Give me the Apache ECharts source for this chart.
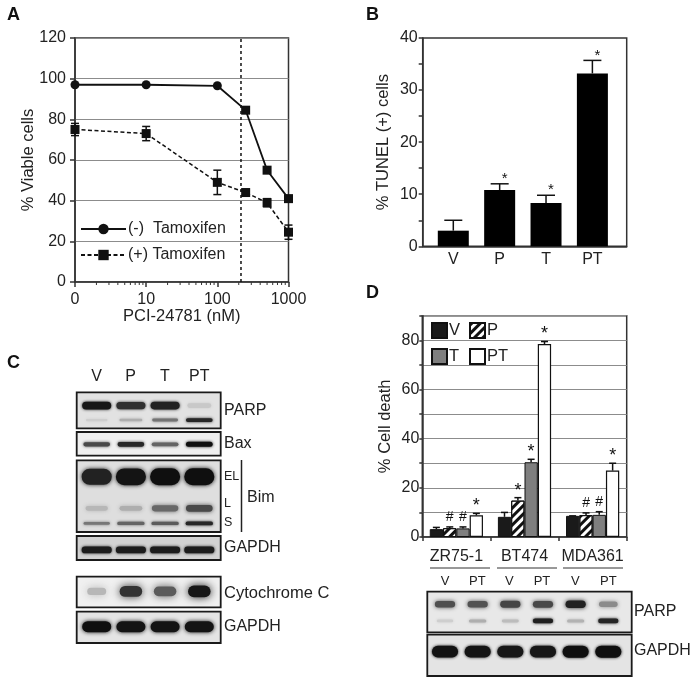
<!DOCTYPE html>
<html>
<head>
<meta charset="utf-8">
<style>
  html, body { margin: 0; padding: 0; background: #fff; }
  #chart { width: 699px; height: 684px; }
</style>
<script src="https://cdn.jsdelivr.net/npm/echarts@6/dist/echarts.min.js"></script>
</head>
<body>
<div id="chart"></div>
<script>
// panel A
const doses = [1, 10, 100, 250, 500, 1000]
const doseMinorTicks = [2, 3, 4, 5, 6, 7, 8, 9, 20, 30, 40, 50, 60, 70, 80, 90, 200, 300, 400, 500, 600, 700, 800, 900]
const cutoffDose = 215
const viableMinus = [97, 97, 96.5, 84.5, 55, 41]
const viableMinusErr = [1, 0.5, 0.5, 1.5, 1, 1.5]
const viablePlus = [75, 73, 49, 44, 39, 24.5]
const viablePlusErr = [3, 3.5, 6, 1.5, 2, 3.5]

// panel B
const tunelGroups = ['V', 'P', 'T', 'PT']
const tunelValues = [3, 10.8, 8.3, 33.2]
const tunelErr = [2, 1.2, 1.5, 2.5]
const tunelMarks = ['', '*', '*', '*']

// panel D
const cellLines = ['ZR75-1', 'BT474', 'MDA361']
const deathV = [3.2, 8.2, 8.6]
const deathP = [3.6, 14.8, 8.9]
const deathT = [3.5, 30.4, 9]
const deathPT = [8.8, 78.5, 27]
const deathVErr = [0.7, 1.8, 0]
const deathPErr = [0.5, 1.2, 0.9]
const deathTErr = [0.6, 1.2, 1.3]
const deathPTErr = [0.8, 1, 3]
const deathPMarks = ['#', '*', '#']
const deathTMarks = ['#', '*', '#']
const deathPTMarks = ['*', '*', '*']

// blot band strengths, one per lane (0 faint, 1 black)
const parpUpper = [0.95, 0.8, 0.88, 0.04]
const parpLower = [0.02, 0.14, 0.42, 0.85]
const baxBand = [0.65, 0.85, 0.5, 1]
const bimEL = [0.88, 0.97, 1, 1]
const bimL = [0.1, 0.14, 0.48, 0.65]
const bimS = [0.4, 0.5, 0.55, 0.85]
const gapdhTop = [0.92, 0.92, 0.92, 0.92]
const cytoBand = [0.1, 0.78, 0.55, 0.95]
const gapdhBottom = [1, 0.97, 0.97, 0.97]
const dParpUpper = [0.62, 0.6, 0.68, 0.66, 0.88, 0.3]
const dParpLower = [0.02, 0.14, 0.08, 0.9, 0.12, 0.86]
const dGapdh = [0.98, 0.97, 0.95, 0.95, 1, 1]

const FONT = '"Liberation Sans", Arial, sans-serif'
const INK = '#222'
const GRID_LINE = '#8c8c8c'

const chart = echarts.init(document.getElementById('chart'), null, { renderer: 'canvas' })

function frame(left, top, right, bottom) {
  return {
    show: true, left, top, width: right - left, height: bottom - top,
    borderColor: '#333', borderWidth: 1.5, backgroundColor: 'transparent'
  }
}

function yAxis(gridIndex, max, interval, labelStep, name, nameGap, gridLines, margin, tickLen) {
  return {
    type: 'value', gridIndex, min: 0, max, interval, name, nameGap,
    nameLocation: 'middle', nameMoveOverlap: false,
    nameTextStyle: { fontFamily: FONT, fontSize: 16.5, color: INK },
    axisLine: { show: true, onZero: false, lineStyle: { color: '#333', width: 1.5 } },
    axisTick: { show: true, length: tickLen, lineStyle: { color: '#333', width: 1.5 } },
    axisLabel: {
      fontFamily: FONT, fontSize: 16, color: INK, margin,
      formatter: v => (v % labelStep === 0 ? String(v) : '')
    },
    splitLine: { show: gridLines, lineStyle: { color: GRID_LINE, width: 1.2 } }
  }
}

// error bar with a cap, plus the * or # above it
function errorBars(opts) {
  return (params, api) => {
    const c = api.coord([api.value(0), api.value(1)])
    const hi = api.coord([api.value(0), api.value(1) + api.value(2)])
    const lo = api.coord([api.value(0), api.value(1) - api.value(2)])
    const x = c[0] + (opts.dx || 0)
    const cap = opts.cap
    const stroke = { stroke: '#111', lineWidth: 1.5 }
    const children = [
      { type: 'line', shape: { x1: x, y1: opts.upperOnly ? c[1] : lo[1], x2: x, y2: hi[1] }, style: stroke },
      { type: 'line', shape: { x1: x - cap, y1: hi[1], x2: x + cap, y2: hi[1] }, style: stroke }
    ]
    if (!opts.upperOnly) {
      children.push({ type: 'line', shape: { x1: x - cap, y1: lo[1], x2: x + cap, y2: lo[1] }, style: stroke })
    }
    const mark = api.value(3)
    if (mark && mark !== '-') {
      const star = mark === '*'
      children.push({
        type: 'text',
        style: {
          x: x + (star ? opts.starDx || 0 : 0), y: hi[1] - (star ? opts.starGap : opts.hashGap), text: mark,
          align: 'center', verticalAlign: 'middle',
          font: (star ? opts.starSize : 14) + 'px ' + FONT, fill: '#111'
        }
      })
    }
    return { type: 'group', children }
  }
}

function errorSeries(xAxisIndex, xs, values, errs, marks, opts) {
  return {
    type: 'custom', xAxisIndex, yAxisIndex: xAxisIndex, clip: false, z: 5,
    silent: true,
    renderItem: errorBars(opts),
    encode: { x: 0, y: 1 },
    dimensions: ['x', 'y', 'err', { name: 'mark', type: 'ordinal' }],
    data: xs.map((x, i) => [x, values[i], errs[i], marks ? (marks[i] || '-') : '-'])
  }
}

// panel letters, annotations and labels around the blots
function label(text, x, y, size, extra) {
  return {
    type: 'text', x, y,
    style: Object.assign({
      text, fontFamily: FONT, fontSize: size, fill: INK, verticalAlign: 'middle'
    }, extra || {})
  }
}

const laneC = [96.7, 130.7, 165, 199.3]
const laneD = [445, 477.3, 509.3, 542, 575.3, 608.3]
const graphics = [
  label('A', 7, 15, 18, { fontWeight: 'bold', fill: '#111' }),
  label('B', 366, 15, 18, { fontWeight: 'bold', fill: '#111' }),
  label('C', 7, 363, 18, { fontWeight: 'bold', fill: '#111' }),
  label('D', 366, 293, 18, { fontWeight: 'bold', fill: '#111' }),
  label('PARP', 224, 411, 16),
  label('Bax', 224, 444, 16),
  label('EL', 224, 477, 12.5),
  label('L', 224, 504, 12.5),
  label('S', 224, 523, 12.5),
  label('Bim', 247, 498, 16),
  label('GAPDH', 224, 548, 16),
  label('Cytochrome C', 224, 593, 16.5),
  label('GAPDH', 224, 627, 16),
  label('PARP', 634, 612, 16),
  label('GAPDH', 634, 651, 16),
  { type: 'line', shape: { x1: 241.5, y1: 460, x2: 241.5, y2: 532 }, style: { stroke: '#222', lineWidth: 1.5 } },
  { type: 'line', shape: { x1: 430, y1: 568, x2: 490, y2: 568 }, style: { stroke: '#333', lineWidth: 1 } },
  { type: 'line', shape: { x1: 497, y1: 568, x2: 557, y2: 568 }, style: { stroke: '#333', lineWidth: 1 } },
  { type: 'line', shape: { x1: 563, y1: 568, x2: 623, y2: 568 }, style: { stroke: '#333', lineWidth: 1 } }
]
tunelGroups.forEach((g, i) => graphics.push(label(g, laneC[i], 377, 16, { align: 'center' })))
laneD.forEach((x, i) => graphics.push(label(i % 2 ? 'PT' : 'V', x, 581, 13, { align: 'center' })))

const grids = [
  frame(75, 38, 288.5, 282),
  frame(422.7, 38, 626.7, 246.3),
  frame(422.3, 315.7, 626.7, 537)
]
const xAxes = [
  {
    type: 'log', gridIndex: 0, min: 1, max: 1000, logBase: 10,
    name: 'PCI-24781 (nM)', nameLocation: 'middle', nameGap: 26, nameMoveOverlap: false,
    nameTextStyle: { fontFamily: FONT, fontSize: 16.5, color: INK },
    axisLine: { show: true, lineStyle: { color: '#333', width: 1.5 } },
    axisTick: { show: true, length: 5, lineStyle: { color: '#333', width: 1.5 } },
    axisLabel: {
      fontFamily: FONT, fontSize: 16, color: INK, margin: 10,
      formatter: v => (v === 1 ? '0' : String(v))
    },
    splitLine: { show: false }, minorTick: { show: false }, minorSplitLine: { show: false }
  },
  {
    type: 'value', gridIndex: 1, min: -0.66, max: 3.74,
    axisLine: { show: true, lineStyle: { color: '#333', width: 1.5 } },
    axisTick: { show: false },
    axisLabel: {
      fontFamily: FONT, fontSize: 16, color: INK, margin: 5,
      customValues: [0, 1, 2, 3], formatter: v => tunelGroups[v]
    },
    splitLine: { show: false }
  },
  {
    type: 'category', gridIndex: 2, data: cellLines,
    axisLine: { show: true, lineStyle: { color: '#333', width: 1.5 } },
    axisTick: { show: true, length: 4, lineStyle: { color: '#333', width: 1.5 } },
    axisLabel: { fontFamily: FONT, fontSize: 16, color: INK, margin: 12, interval: 0, hideOverlap: false },
    splitLine: { show: false }
  }
]
const yAxes = [
  yAxis(0, 120, 20, 20, '% Viable cells', 38, true, 9, 5),
  yAxis(1, 40, 5, 10, '% TUNEL (+) cells', 31, false, 5, 4),
  yAxis(2, 90, 10, 20, '% Cell death', 28, true, 3, 3)
]

// each blot is a small grid of its own: lanes on x, height fraction on y
const bandSeries = []
function blot(left, top, right, bottom, lanes, bg, rows) {
  const idx = grids.length
  const spacing = (lanes[lanes.length - 1] - lanes[0]) / (lanes.length - 1)
  grids.push({
    show: true, left, top, width: right - left, height: bottom - top,
    borderColor: '#1a1a1a', borderWidth: 1.8, backgroundColor: bg
  })
  xAxes.push({
    type: 'value', gridIndex: idx, show: false,
    min: (left - lanes[0]) / spacing, max: (right - lanes[0]) / spacing, splitLine: { show: false }
  })
  yAxes.push({ type: 'value', gridIndex: idx, show: false, min: 0, max: 1, inverse: true, splitLine: { show: false } })
  rows.forEach(row => {
    bandSeries.push({
      type: 'custom', xAxisIndex: idx, yAxisIndex: idx, silent: true, z: 3,
      encode: { x: 0, y: 1 },
      data: row.values.map((v, i) => [i, row.y, v]),
      renderItem(params, api) {
        const p = api.coord([api.value(0), api.value(1)])
        const v = api.value(2)
        const g = Math.round(215 - 200 * Math.pow(v, 0.8))
        const w = spacing * (row.w || 0.8) * (0.8 + 0.2 * Math.min(1, v * 2))
        const h = row.h * (0.55 + 0.45 * v)
        const color = `rgb(${g},${g},${g})`
        return {
          type: 'rect',
          shape: { x: p[0] - w / 2, y: p[1] - h / 2, width: w, height: h, r: h / 2 },
          style: { fill: color, shadowBlur: row.blur || 3, shadowColor: color }
        }
      }
    })
  })
}

blot(76.7, 392.3, 220.7, 428.3, laneC, '#e2e2e2', [
  { values: parpUpper, y: 0.37, h: 8, w: 0.85 },
  { values: parpLower, y: 0.77, h: 4, w: 0.78 }
])
blot(76.7, 432, 220.7, 455.7, laneC, '#efefef', [{ values: baxBand, y: 0.52, h: 5, w: 0.78 }])
blot(76.7, 460.3, 220.7, 532, laneC, '#dedede', [
  { values: bimEL, y: 0.23, h: 17, w: 0.88, blur: 4 },
  { values: bimL, y: 0.67, h: 8, w: 0.78, blur: 4 },
  { values: bimS, y: 0.88, h: 4, w: 0.8 }
])
blot(76.7, 536, 220.7, 560, laneC, '#d2d2d2', [{ values: gapdhTop, y: 0.58, h: 7, w: 0.88 }])
blot(76.7, 576.7, 220.7, 607.3, laneC, '#f0f0f0', [{ values: cytoBand, y: 0.48, h: 12, w: 0.66, blur: 8 }])
blot(76.7, 611.7, 220.7, 643, laneC, '#e4e4e4', [{ values: gapdhBottom, y: 0.48, h: 11, w: 0.85, blur: 4 }])
blot(427.3, 591.7, 631.7, 632.3, laneD, '#e8e8e8', [
  { values: dParpUpper, y: 0.31, h: 8, w: 0.62, blur: 4 },
  { values: dParpLower, y: 0.72, h: 5, w: 0.62 }
])
blot(427.3, 634.7, 631.7, 676, laneD, '#e4e4e4', [{ values: dGapdh, y: 0.41, h: 12, w: 0.8, blur: 3 }])

const option = {
  animation: false,
  backgroundColor: '#fff',
  textStyle: { fontFamily: FONT },
  grid: grids,
  xAxis: xAxes,
  yAxis: yAxes,
  legend: [
    {
      left: 75, top: 216, orient: 'vertical', itemWidth: 45, itemHeight: 13, itemGap: 10,
      data: ['(-)  Tamoxifen', '(+) Tamoxifen'],
      textStyle: { fontFamily: FONT, fontSize: 16, color: INK, padding: [0, 0, 0, -3] }
    },
    {
      left: 426, top: 317, orient: 'vertical', icon: 'rect', itemWidth: 15, itemHeight: 15, itemGap: 9,
      data: ['V', 'T'],
      textStyle: { fontFamily: FONT, fontSize: 16.5, color: INK, padding: [0, 0, 0, -3] }
    },
    {
      left: 464, top: 317, orient: 'vertical', icon: 'rect', itemWidth: 15, itemHeight: 15, itemGap: 9,
      data: ['P', 'PT'],
      textStyle: { fontFamily: FONT, fontSize: 16.5, color: INK, padding: [0, 0, 0, -3] }
    }
  ],
  graphic: graphics,
  series: [
    // panel A
    {
      name: 'cutoff', type: 'line', xAxisIndex: 0, yAxisIndex: 0, symbol: 'none', z: 3, silent: true,
      lineStyle: { color: '#111', width: 1.5, type: [3, 3] },
      data: [[cutoffDose, 0], [cutoffDose, 120]]
    },
    {
      type: 'custom', xAxisIndex: 0, yAxisIndex: 0, clip: false, silent: true, z: 2,
      encode: { x: 0, y: 1 },
      data: doseMinorTicks.map(d => [d, 0]),
      renderItem(params, api) {
        const p = api.coord([api.value(0), 0])
        return { type: 'line', shape: { x1: p[0], y1: p[1], x2: p[0], y2: p[1] + 3 }, style: { stroke: '#333', lineWidth: 1 } }
      }
    },
    errorSeries(0, doses, viableMinus, viableMinusErr, null, { cap: 3 }),
    errorSeries(0, doses, viablePlus, viablePlusErr, null, { cap: 4 }),
    {
      name: '(-)  Tamoxifen', type: 'line', xAxisIndex: 0, yAxisIndex: 0, clip: false, z: 6,
      symbol: 'circle', symbolSize: 9,
      itemStyle: { color: '#111' }, lineStyle: { color: '#111', width: 1.8 },
      data: doses.map((d, i) => ({ value: [d, viableMinus[i]], symbol: i > 2 ? 'rect' : 'circle' }))
    },
    {
      name: '(+) Tamoxifen', type: 'line', xAxisIndex: 0, yAxisIndex: 0, clip: false, z: 6,
      symbol: 'rect', symbolSize: 9,
      itemStyle: { color: '#111' }, lineStyle: { color: '#111', width: 1.5, type: [4, 2.5] },
      data: doses.map((d, i) => [d, viablePlus[i]])
    },
    // panel B
    {
      type: 'bar', xAxisIndex: 1, yAxisIndex: 1, barWidth: 31, z: 3,
      itemStyle: { color: '#000' },
      data: tunelGroups.map((g, i) => [i, tunelValues[i]])
    },
    errorSeries(1, [0, 1, 2, 3], tunelValues, tunelErr, tunelMarks, { cap: 9, starGap: 5, starDx: 5, starSize: 15, upperOnly: true }),
    // panel D
    {
      name: 'V', type: 'bar', xAxisIndex: 2, yAxisIndex: 2, barWidth: 13.3, barGap: 0, z: 3, data: deathV,
      itemStyle: { color: '#1a1a1a', borderColor: '#111', borderWidth: 1 }
    },
    {
      name: 'P', type: 'bar', xAxisIndex: 2, yAxisIndex: 2, barWidth: 13.3, barGap: 0, z: 3, data: deathP,
      itemStyle: {
        color: '#fff', borderColor: '#111', borderWidth: 1,
        decal: { symbol: 'rect', color: '#111', dashArrayX: [1, 0], dashArrayY: [3, 3], rotation: -Math.PI / 4 }
      }
    },
    {
      name: 'T', type: 'bar', xAxisIndex: 2, yAxisIndex: 2, barWidth: 13.3, barGap: 0, z: 3, data: deathT,
      itemStyle: { color: '#7f7f7f', borderColor: '#111', borderWidth: 1 }
    },
    {
      name: 'PT', type: 'bar', xAxisIndex: 2, yAxisIndex: 2, barWidth: 13.3, barGap: 0, z: 3, data: deathPT,
      itemStyle: { color: '#fff', borderColor: '#111', borderWidth: 1.2 }
    },
    errorSeries(2, [0, 1, 2], deathV, deathVErr, null, { dx: -20, cap: 3.5, upperOnly: true }),
    errorSeries(2, [0, 1, 2], deathP, deathPErr, deathPMarks, { dx: -6.6, cap: 3.5, starGap: 7, hashGap: 10, starSize: 18, upperOnly: true }),
    errorSeries(2, [0, 1, 2], deathT, deathTErr, deathTMarks, { dx: 6.6, cap: 3.5, starGap: 7, hashGap: 10, starSize: 18, upperOnly: true }),
    errorSeries(2, [0, 1, 2], deathPT, deathPTErr, deathPTMarks, { dx: 20, cap: 3.5, starGap: 7, hashGap: 10, starSize: 18, upperOnly: true })
  ].concat(bandSeries)
}

chart.setOption(option)
</script>
</body>
</html>
